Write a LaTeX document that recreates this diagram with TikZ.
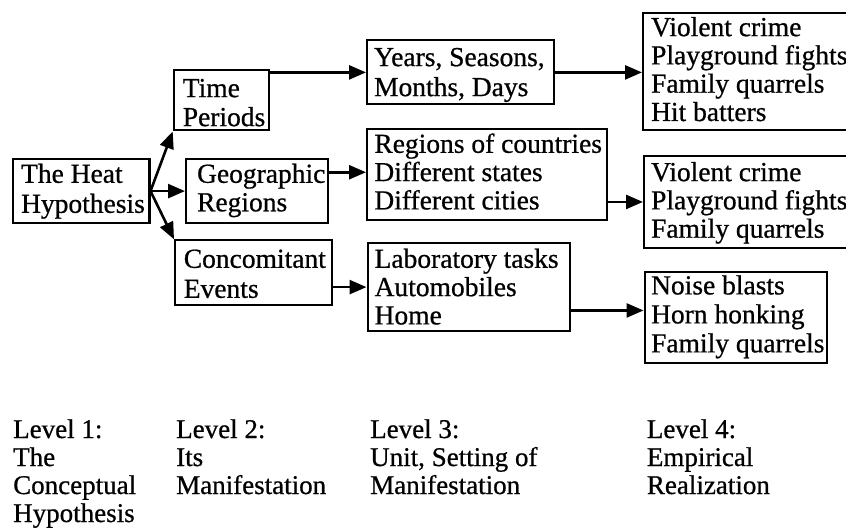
\documentclass[tikz,border=0pt]{standalone}
\usepackage{fontspec}
\setmainfont{Liberation Serif}[FakeBold=0.7]
\usetikzlibrary{arrows.meta,calc}
% #1 width, #2 height, #3 left pad, #4 first baseline from top, #5 line spacing, #6 lines
\newcommand\mybox[6]{\fontsize{27.5}{#5}\selectfont
  \vbox to #2{\vskip\dimexpr #4-.7\baselineskip\relax
    \hbox to #1{\hspace*{#3}\begin{tabular}[t]{@{}l@{}}#6\end{tabular}\hss}\vss}}
\newcommand\mylevel[1]{\fontsize{27}{28}\selectfont\begin{tabular}[t]{@{}l@{}}#1\end{tabular}}
\begin{document}
\begin{tikzpicture}[x=1pt,y=-1pt,
  bbox/.style={draw, line width=2.2pt, inner sep=0pt, anchor=north west},
  arr/.style={line width=2.6pt, -{Triangle[length=17pt,width=14pt]}},
  lvl/.style={inner sep=0pt, anchor=base west}]
\useasboundingbox (0,0) rectangle (846,529);
\fill[white] (0,0) rectangle (846,529);
% level 1
\node[bbox] (heat) at (11.7,158.3)
  {\mybox{136.6pt}{63.4pt}{8.3pt}{23.4pt}{30pt}{The Heat\\Hypothesis}};
% level 2
\node[bbox] (time) at (172.7,69.3)
  {\mybox{95pt}{60pt}{9pt}{26.7pt}{29pt}{Time\\Periods}};
\node[bbox] (geo) at (185,158.3)
  {\mybox{141.7pt}{63.4pt}{11pt}{23.4pt}{28.5pt}{Geographic\\Regions}};
\node[bbox] (conc) at (174,239.3)
  {\mybox{157pt}{64.7pt}{8.7pt}{27.4pt}{30pt}{Concomitant\\Events}};
% level 3
\node[bbox] (years) at (366,39.3)
  {\mybox{187pt}{64pt}{7pt}{25.7pt}{30pt}{Years, Seasons,\\Months, Days}};
\node[bbox] (regions) at (366,128.3)
  {\mybox{239.7pt}{90.7pt}{7.3pt}{23.4pt}{28.3pt}{Regions of countries\\Different states\\Different cities}};
\node[bbox] (lab) at (366.5,242)
  {\mybox{202.5pt}{88pt}{7pt}{24.7pt}{28.3pt}{Laboratory tasks\\Automobiles\\Home}};
% level 4
\node[bbox] (v1) at (642,11.7)
  {\mybox{206pt}{117.6pt}{8pt}{23.3pt}{28.3pt}{Violent crime\\Playground fights\\Family quarrels\\Hit batters}};
\node[bbox] (v2) at (643,155)
  {\mybox{205pt}{91.7pt}{7pt}{25pt}{28.3pt}{Violent crime\\Playground fights\\Family quarrels}};
\node[bbox] (noise) at (643.5,271)
  {\mybox{182.5pt}{90.7pt}{6.5pt}{22.3pt}{29pt}{Noise blasts\\Horn honking\\Family quarrels}};
% connectors
\draw[arr] (heat.east) -- (time.south west);
\draw[arr] (heat.east) -- (geo.west);
\draw[arr] (heat.east) -- (conc.north west);
\draw[arr] (years.west -| time.east) -- (years.west);
\draw[arr] (years.east) -- (years.east -| v1.west);
\coordinate (rg) at ($(regions.west)+(0,-2.5)$);
\draw[arr] (rg -| geo.east) -- (rg);
\draw[arr] (v2.west -| regions.east) -- (v2.west);
\draw[arr] (lab.west -| conc.east) -- (lab.west);
\coordinate (nz) at ($(noise.west)+(0,-7)$);
\draw[arr] (nz -| lab.east) -- (nz);
% level labels
\node[lvl] (l1) at (13,438) {\mylevel{Level 1:\\The\\Conceptual\\Hypothesis}};
\node[lvl] (l2) at (176,438) {\mylevel{Level 2:\\Its\\Manifestation}};
\node[lvl] (l3) at (370,438) {\mylevel{Level 3:\\Unit, Setting of\\Manifestation}};
\node[lvl] (l4) at (646.7,438) {\mylevel{Level 4:\\Empirical\\Realization}};
\end{tikzpicture}
\end{document}
